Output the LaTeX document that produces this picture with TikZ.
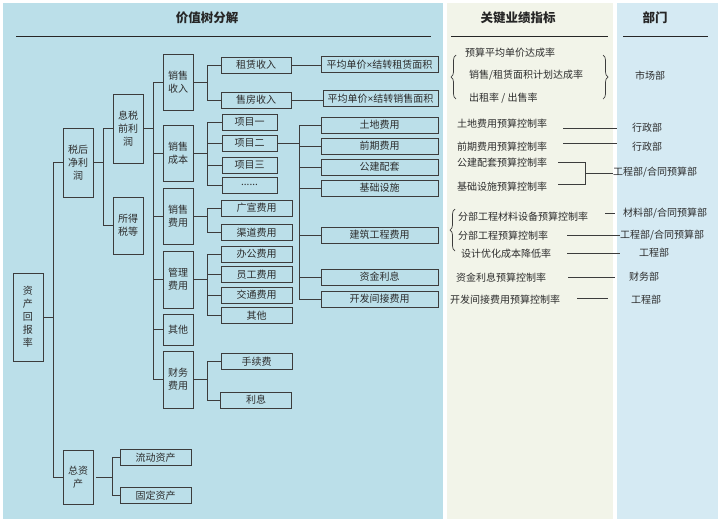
\documentclass[tikz,border=0pt]{standalone}
\usepackage{fontspec}
\setmainfont{Noto Sans CJK SC}
\newfontfamily\latn{Liberation Sans}
\usetikzlibrary{decorations.pathreplacing}
\definecolor{panelA}{RGB}{187,223,233}
\definecolor{panelB}{RGB}{242,244,233}
\definecolor{panelC}{RGB}{213,234,243}
\definecolor{ink}{RGB}{45,45,45}
\definecolor{edge}{RGB}{60,60,60}
\tikzset{
  bx/.style={draw=edge, line width=0.9pt, inner sep=0pt, align=center, text=ink,
    font=\fontsize{10}{13}\selectfont},
  vb/.style={bx, minimum width=30pt},
  hb/.style={bx, minimum height=16pt},
  conn/.style={draw=edge, line width=0.9pt},
  kpi/.style={anchor=west, inner sep=0pt, text=ink, font=\fontsize{10}{12}\selectfont},
  dept/.style={anchor=west, inner sep=0pt, text=ink, font=\fontsize{10}{12}\selectfont},
  ttl/.style={inner sep=0pt, text=black!85, font=\fontsize{12.5}{14}\selectfont\bfseries},
  brc/.style={draw=edge, line width=0.7pt, decorate, decoration={brace, amplitude=5pt}}
}
\begin{document}
\begin{tikzpicture}[x=1pt, y=-1pt]
\useasboundingbox (0,0) rectangle (720,523);
\fill[white] (0,0) rectangle (720,523);
\fill[panelA] (3,3) rectangle (443,519);
\fill[panelB] (447,3) rectangle (613,519);
\fill[panelC] (617,3) rectangle (718,519);

% titles
\node[ttl] (t1) at (207,18) {价值树分解};
\node[ttl] (t2) at (518,18) {关键业绩指标};
\node[ttl] (t3) at (655,18) {部门};
\draw[line width=0.9pt, black!85] (16,36) -- (431,36);
\draw[line width=0.9pt, black!85] (451,36) -- (608,36);
\draw[line width=0.9pt, black!85] (623,36) -- (708,36);

% tree level 1-3
\node[vb, minimum height=88pt] (roa) at (28,317) {资\\产\\回\\报\\率};
\node[vb, minimum height=69pt] (jlr) at (78,162.5) {税后\\净利\\润};
\node[vb, minimum height=54pt] (zzc) at (78,477) {总资\\产};
\node[vb, minimum height=69pt] (xs) at (128,128.5) {息税\\前利\\润};
\node[vb, minimum height=57pt] (sds) at (128,225.5) {所得\\税等};
\node[vb, minimum height=56pt] (xssr) at (178,82) {销售\\收入};
\node[vb, minimum height=56pt] (xscb) at (178,153) {销售\\成本};
\node[vb, minimum height=56pt] (xsfy) at (178,216) {销售\\费用};
\node[vb, minimum height=57pt] (glfy) at (178,279.5) {管理\\费用};
\node[vb, minimum height=31pt] (qt) at (178,329.5) {其他};
\node[vb, minimum height=57pt] (cwfy) at (178,379.5) {财务\\费用};

% second column
\node[hb, minimum width=70pt] (zl) at (256,65) {租赁收入};
\node[hb, minimum width=70pt] (sf) at (256,100) {售房收入};
\node[hb, minimum width=55pt] (xm1) at (249.5,122) {项目一};
\node[hb, minimum width=55pt] (xm2) at (249.5,143) {项目二};
\node[hb, minimum width=55pt] (xm3) at (249.5,165) {项目三};
\node[hb, minimum width=55pt] (xm4) at (249.5,185) {\raisebox{1pt}{......}};
\node[hb, minimum width=71pt] (gx) at (256.5,208) {广宣费用};
\node[hb, minimum width=71pt] (qd) at (256.5,232.5) {渠道费用};
\node[hb, minimum width=71pt] (bg) at (256.5,254) {办公费用};
\node[hb, minimum width=71pt] (yg) at (256.5,274.5) {员工费用};
\node[hb, minimum width=71pt] (jt) at (256.5,295) {交通费用};
\node[hb, minimum width=71pt] (qt2) at (256.5,315.5) {其他};
\node[hb, minimum width=71pt] (sxf) at (256.5,361.5) {手续费};
\node[hb, minimum width=71pt] (lx) at (256,400) {利息};
\node[hb, minimum width=71pt] (ldzc) at (155.5,457.5) {流动资产};
\node[hb, minimum width=71pt] (gdzc) at (155.5,495.5) {固定资产};

% third column
\node[hb, minimum width=117pt] (pj1) at (379.5,64.5) {平均单价{\latn ×}结转租赁面积};
\node[hb, minimum width=115pt] (pj2) at (380.5,98.5) {平均单价{\latn ×}结转销售面积};
\node[hb, minimum width=117pt] (td) at (379.5,125) {土地费用};
\node[hb, minimum width=117pt] (qq) at (379.5,146) {前期费用};
\node[hb, minimum width=117pt] (gj) at (379.5,167) {公建配套};
\node[hb, minimum width=117pt] (jc) at (379.5,188) {基础设施};
\node[hb, minimum width=117pt] (jz) at (379.5,235) {建筑工程费用};
\node[hb, minimum width=117pt] (zj) at (379.5,277) {资金利息};
\node[hb, minimum width=117pt] (kf) at (379.5,299) {开发间接费用};

% connectors
\foreach \c in {jlr,zzc} \draw[conn] (roa.east) -- ++(10,0) |- (\c.west);
\foreach \c in {xs,sds} \draw[conn] (jlr.east) -- ++(10,0) |- (\c.west);
\foreach \c in {xssr,xscb,xsfy,glfy,qt,cwfy} \draw[conn] (xs.east) -- ++(10,0) |- (\c.west);
\foreach \c in {zl,sf} \draw[conn] (xssr.east) -- ++(14,0) |- (\c.west);
\foreach \c in {xm1,xm2,xm3,xm4} \draw[conn] (xscb.east) -- ++(14,0) |- (\c.west);
\foreach \c in {gx,qd} \draw[conn] (xsfy.east) -- ++(14,0) |- (\c.west);
\foreach \c in {bg,yg,jt,qt2} \draw[conn] (glfy.east) -- ++(14,0) |- (\c.west);
\foreach \c in {sxf,lx} \draw[conn] (cwfy.east) -- ++(14,0) |- (\c.west);
\foreach \c in {ldzc,gdzc} \draw[conn] ([xshift=3pt]zzc.east) -- ++(16,0) |- (\c.west);
\draw[conn] (zl.east) -- (zl.east -| pj1.west);
\draw[conn] (sf.east) -- (sf.east -| pj2.west);
\foreach \c in {td,qq,gj,jc,jz,zj,kf} \draw[conn] (xm2.east) -- ++(22,0) |- (\c.west);

% KPI column
\node[kpi] (k1) at (465,53) {预算平均单价达成率};
\node[kpi] (k2) at (469,75) {销售/租赁面积计划达成率};
\node[kpi] (k3) at (469,98) {出租率 / 出售率};
\draw[brc] (456,99) -- (456,55);
\draw[brc] (603,55) -- (603,99);
\node[dept] (d1) at (635,76) {市场部};

\node[kpi] (k4) at (457,124) {土地费用预算控制率};
\node[dept] (d4) at (632,128) {行政部};
\draw[conn] (563,128) -- (617,128);
\node[kpi] (k5) at (457,147) {前期费用预算控制率};
\node[dept] (d5) at (632,147) {行政部};
\draw[conn] (563,143) -- (617,143);
\node[kpi] (k6) at (457,163) {公建配套预算控制率};
\node[kpi] (k7) at (457,187) {基础设施预算控制率};
\draw[conn] (558,162) -- (585,162) -- (585,184) -- (558,184);
\draw[conn] (585,173) -- (613,173);
\node[dept] (d6) at (613,172) {工程部/合同预算部};

\node[kpi] (k8) at (458,217) {分部工程材料设备预算控制率};
\draw[conn] (605,213) -- (615,213);
\node[dept] (d8) at (623,213) {材料部/合同预算部};
\node[kpi] (k9) at (458,236) {分部工程预算控制率};
\draw[conn] (567,235) -- (620,235);
\node[dept] (d9) at (620,235) {工程部/合同预算部};
\node[kpi] (k10) at (461,254) {设计优化成本降低率};
\draw[conn] (567,253) -- (620,253);
\node[dept] (d10) at (639,253) {工程部};
\draw[brc] (455,251) -- (455,209);

\node[kpi] (k11) at (456,278) {资金利息预算控制率};
\draw[conn] (568,277) -- (615,277);
\node[dept] (d11) at (629,277) {财务部};
\node[kpi] (k12) at (450,300) {开发间接费用预算控制率};
\draw[conn] (577,298) -- (608,298);
\node[dept] (d12) at (631,300) {工程部};
\end{tikzpicture}
\end{document}
